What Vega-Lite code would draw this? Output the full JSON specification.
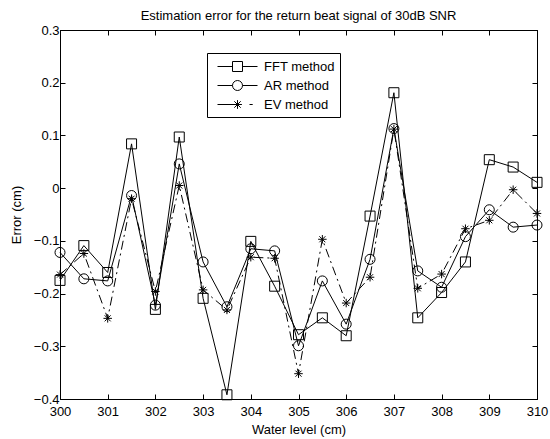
{
  "$schema": "https://vega.github.io/schema/vega-lite/v6.json",
  "width": 477,
  "height": 369,
  "autosize": {"type": "none"},
  "padding": {"left": 60, "top": 30, "right": 13, "bottom": 40},
  "background": "white",
  "title": {"text": "Estimation error for the return beat signal of 30dB SNR", "font": "Liberation Sans", "fontSize": 13, "fontWeight": "normal", "color": "black", "offset": 1, "anchor": "middle"},
  "config": {
    "view": {"stroke": "black", "strokeWidth": 1},
    "axis": {"grid": false, "domainColor": "black", "tickColor": "black", "labelColor": "black", "titleColor": "black", "labelFont": "Liberation Sans", "titleFont": "Liberation Sans", "labelFontSize": 13, "titleFontSize": 13, "titleFontWeight": "normal", "tickSize": -5, "domainWidth": 1, "tickWidth": 1}
  },
  "data": {"values": [
    {"level": 300, "series": "FFT method", "error": -0.175},
    {"level": 300.5, "series": "FFT method", "error": -0.109},
    {"level": 301, "series": "FFT method", "error": -0.16},
    {"level": 301.5, "series": "FFT method", "error": 0.084},
    {"level": 302, "series": "FFT method", "error": -0.23},
    {"level": 302.5, "series": "FFT method", "error": 0.097},
    {"level": 303, "series": "FFT method", "error": -0.209},
    {"level": 303.5, "series": "FFT method", "error": -0.392},
    {"level": 304, "series": "FFT method", "error": -0.101},
    {"level": 304.5, "series": "FFT method", "error": -0.186},
    {"level": 305, "series": "FFT method", "error": -0.278},
    {"level": 305.5, "series": "FFT method", "error": -0.246},
    {"level": 306, "series": "FFT method", "error": -0.28},
    {"level": 306.5, "series": "FFT method", "error": -0.053},
    {"level": 307, "series": "FFT method", "error": 0.181},
    {"level": 307.5, "series": "FFT method", "error": -0.246},
    {"level": 308, "series": "FFT method", "error": -0.198},
    {"level": 308.5, "series": "FFT method", "error": -0.14},
    {"level": 309, "series": "FFT method", "error": 0.054},
    {"level": 309.5, "series": "FFT method", "error": 0.04},
    {"level": 310, "series": "FFT method", "error": 0.011},
    {"level": 300, "series": "AR method", "error": -0.122},
    {"level": 300.5, "series": "AR method", "error": -0.172},
    {"level": 301, "series": "AR method", "error": -0.176},
    {"level": 301.5, "series": "AR method", "error": -0.014},
    {"level": 302, "series": "AR method", "error": -0.222},
    {"level": 302.5, "series": "AR method", "error": 0.046},
    {"level": 303, "series": "AR method", "error": -0.14},
    {"level": 303.5, "series": "AR method", "error": -0.225},
    {"level": 304, "series": "AR method", "error": -0.115},
    {"level": 304.5, "series": "AR method", "error": -0.119},
    {"level": 305, "series": "AR method", "error": -0.299},
    {"level": 305.5, "series": "AR method", "error": -0.176},
    {"level": 306, "series": "AR method", "error": -0.258},
    {"level": 306.5, "series": "AR method", "error": -0.135},
    {"level": 307, "series": "AR method", "error": 0.113},
    {"level": 307.5, "series": "AR method", "error": -0.157},
    {"level": 308, "series": "AR method", "error": -0.188},
    {"level": 308.5, "series": "AR method", "error": -0.092},
    {"level": 309, "series": "AR method", "error": -0.041},
    {"level": 309.5, "series": "AR method", "error": -0.074},
    {"level": 310, "series": "AR method", "error": -0.07},
    {"level": 300, "series": "EV method", "error": -0.164},
    {"level": 300.5, "series": "EV method", "error": -0.124},
    {"level": 301, "series": "EV method", "error": -0.247},
    {"level": 301.5, "series": "EV method", "error": -0.02},
    {"level": 302, "series": "EV method", "error": -0.196},
    {"level": 302.5, "series": "EV method", "error": 0.005},
    {"level": 303, "series": "EV method", "error": -0.193},
    {"level": 303.5, "series": "EV method", "error": -0.231},
    {"level": 304, "series": "EV method", "error": -0.131},
    {"level": 304.5, "series": "EV method", "error": -0.133},
    {"level": 305, "series": "EV method", "error": -0.352},
    {"level": 305.5, "series": "EV method", "error": -0.097},
    {"level": 306, "series": "EV method", "error": -0.218},
    {"level": 306.5, "series": "EV method", "error": -0.169},
    {"level": 307, "series": "EV method", "error": 0.112},
    {"level": 307.5, "series": "EV method", "error": -0.19},
    {"level": 308, "series": "EV method", "error": -0.163},
    {"level": 308.5, "series": "EV method", "error": -0.077},
    {"level": 309, "series": "EV method", "error": -0.061},
    {"level": 309.5, "series": "EV method", "error": -0.003},
    {"level": 310, "series": "EV method", "error": -0.048}
  ]},
  "layer": [
    {
      "transform": [{"filter": "datum.series !== 'EV method'"}],
      "mark": {"type": "line", "color": "black", "strokeWidth": 1},
      "encoding": {
        "x": {"field": "level", "type": "quantitative", "scale": {"domain": [300, 310], "nice": false, "zero": false}, "axis": {"orient": "bottom", "title": "Water level (cm)", "values": [300,301,302,303,304,305,306,307,308,309,310], "labelPadding": 11, "titlePadding": 5, "labelFlush": false}},
        "y": {"field": "error", "type": "quantitative", "scale": {"domain": [-0.4, 0.3], "nice": false, "zero": false}, "axis": {"orient": "left", "title": "Error (cm)", "values": [-0.4,-0.3,-0.2,-0.1,0,0.1,0.2,0.3], "format": ".1~f", "labelPadding": 6, "titlePadding": 10, "labelFlush": false}},
        "detail": {"field": "series"}
      }
    },
    {
      "transform": [{"filter": "datum.series === 'EV method'"}],
      "mark": {"type": "line", "color": "black", "strokeWidth": 1, "strokeDash": [9, 4, 2, 4]},
      "encoding": {
        "x": {"field": "level", "type": "quantitative", "axis": null},
        "y": {"field": "error", "type": "quantitative", "axis": null}
      }
    },
    {
      "transform": [{"filter": "datum.series === 'FFT method'"}],
      "mark": {"type": "point", "filled": false, "color": "black", "strokeWidth": 1, "size": 100, "shape": "M-1,-1H1V1H-1Z", "opacity": 1},
      "encoding": {
        "x": {"field": "level", "type": "quantitative", "axis": {"orient": "top", "labels": false, "title": null, "values": [300,301,302,303,304,305,306,307,308,309,310]}},
        "y": {"field": "error", "type": "quantitative", "axis": {"orient": "right", "labels": false, "title": null, "values": [-0.4,-0.3,-0.2,-0.1,0,0.1,0.2,0.3]}}
      }
    },
    {
      "transform": [{"filter": "datum.series === 'AR method'"}],
      "mark": {"type": "point", "filled": false, "color": "black", "strokeWidth": 1, "size": 100, "shape": "circle", "opacity": 1},
      "encoding": {
        "x": {"field": "level", "type": "quantitative", "axis": null},
        "y": {"field": "error", "type": "quantitative", "axis": null}
      }
    },
    {
      "transform": [{"filter": "datum.series === 'EV method'"}],
      "mark": {"type": "point", "filled": false, "color": "black", "strokeWidth": 1, "size": 100, "shape": "M0,-0.85V0.85M-0.85,0H0.85M-0.6,-0.6L0.6,0.6M-0.6,0.6L0.6,-0.6", "opacity": 1},
      "encoding": {
        "x": {"field": "level", "type": "quantitative", "axis": null},
        "y": {"field": "error", "type": "quantitative", "axis": null}
      }
    },
    {
      "mark": {"type": "point", "filled": false, "color": "black", "strokeWidth": 1, "opacity": 0},
      "encoding": {
        "x": {"field": "level", "type": "quantitative", "axis": null},
        "y": {"field": "error", "type": "quantitative", "axis": null},
        "shape": {"field": "series", "type": "nominal",
          "scale": {"domain": ["FFT method", "AR method", "EV method"], "range": [
            "M-2.5,0H-0.625M0.625,0H2.5M-0.625,-0.625H0.625V0.625H-0.625Z",
            "M-2.5,0H-0.625A0.625,0.625 0 1,1 0.625,0A0.625,0.625 0 1,1 -0.625,0M0.625,0H2.5",
            "M-2.5,0H0M0,-0.55V0.55M-0.55,0H0.55M-0.4,-0.4L0.4,0.4M-0.4,0.4L0.4,-0.4M1.5,0H1.9"
          ]},
          "legend": {"title": null, "orient": "none", "legendX": 147, "legendY": 23, "direction": "vertical",
            "strokeColor": "black", "fillColor": "white", "padding": 5, "symbolSize": 256, "symbolOffset": 17, "labelOffset": 18, "rowPadding": 3,
            "labelFont": "Liberation Sans", "labelFontSize": 13, "labelColor": "black",
            "symbolStrokeColor": "black", "symbolFillColor": "transparent", "symbolStrokeWidth": 1, "symbolOpacity": 1,
            "encode": {"symbols": {"update": {
              "fill": {"value": "transparent"},
              "stroke": {"value": "black"},
              "strokeWidth": {"value": 1},
              "opacity": {"value": 1}
            }}}
          }
        }
      }
    }
  ],
  "resolve": {"axis": {"x": "independent", "y": "independent"}}
}
